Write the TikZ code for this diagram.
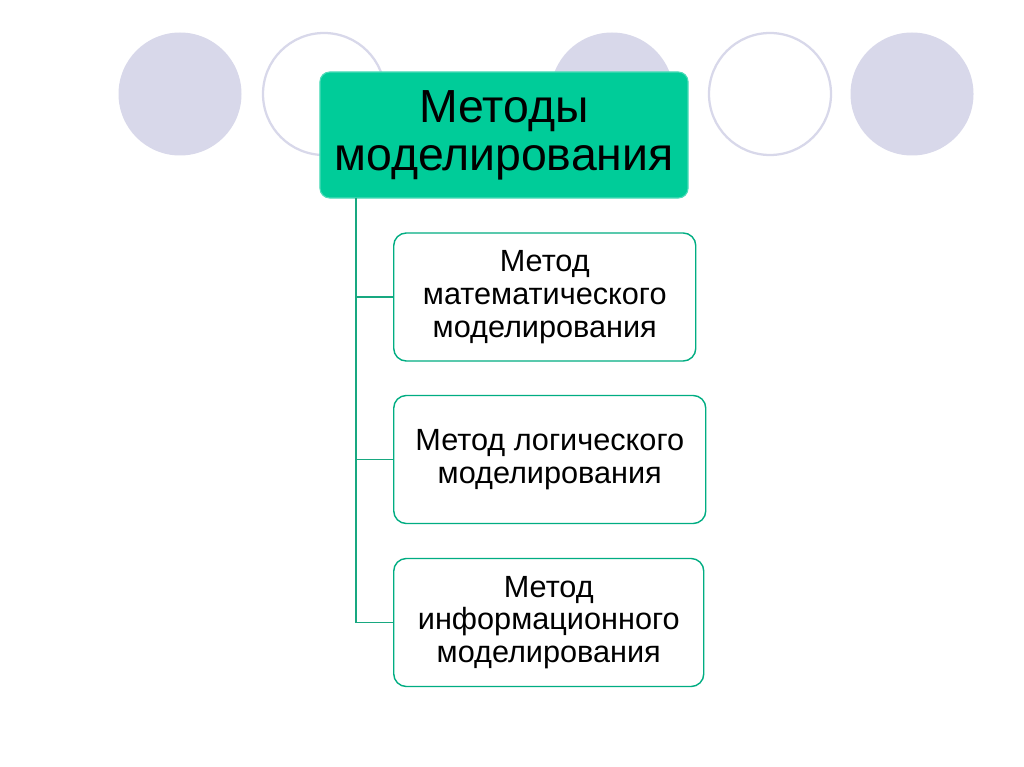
\documentclass[tikz,border=0pt]{standalone}
\usepackage{fontspec}
\setmainfont{Liberation Sans}
\usetikzlibrary{positioning}
\definecolor{lila}{RGB}{216,216,234}
\definecolor{mint}{RGB}{0,204,153}
\definecolor{linkgreen}{RGB}{24,168,128}

\begin{document}
\begin{tikzpicture}[x=0.025cm,y=-0.025cm,
    dot/.style={fill=lila, draw=none},
    ring/.style={draw=lila, line width=1.6pt, fill=white},
    topbox/.style={draw=mint!70!white, fill=mint, rounded corners=7pt, line width=0.8pt,
      minimum width=9.2cm, minimum height=3.15cm, align=center,
      font=\fontsize{33}{34}\selectfont},
    methbox/.style={draw=mint!85!black, fill=white, rounded corners=9pt, line width=1pt,
      minimum height=3.2cm, align=center, anchor=west,
      font=\fontsize{21.8}{23.3}\selectfont},
    link/.style={draw=linkgreen, line width=1.2pt}]
			\useasboundingbox (0,0) rectangle (1024,767);
			\fill[white] (0,0) rectangle (1024,767);
			% circles along the top
			\fill[dot] (180,94) circle (61.5);
			\draw[ring] (324,94) circle (61);
			\fill[dot] (612,94) circle (61.5);
			\draw[ring] (770,94) circle (61);
			\fill[dot] (912,94) circle (61.5);
			% main box
			\node[topbox] (top) at (504,135) {Методы\\моделирования};
			% method boxes
			\node[methbox, minimum width=7.55cm] (mat) at (393,297) {Метод\\математического\\моделирования};
			\node[methbox, minimum width=7.8cm] (log) at (393,459.5) {Метод логического\\моделирования};
			\node[methbox, minimum width=7.75cm] (inf) at (393,622.5) {Метод\\информационного\\моделирования};
			% connectors
			\coordinate (trunk) at (356,198);
			\draw[link] (trunk) |- (mat.west);
			\draw[link] (trunk) |- (log.west);
			\draw[link] (trunk) |- (inf.west);
		\end{tikzpicture}
\end{document}
